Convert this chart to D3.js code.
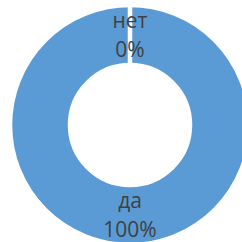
<!DOCTYPE html>
<html>
<head>
<meta charset="utf-8">
<script src="https://cdn.jsdelivr.net/npm/d3@7"></script>
<style>
  html, body { margin: 0; padding: 0; background: #fff; }
  svg { display: block; }
</style>
</head>
<body>
<svg id="chart" width="242" height="242"></svg>
<script>
const categories = ["да", "нет"];
const values = [100, 0];
const percentLabels = ["100%", "0%"];

const svg = d3.select("#chart");
const cx = 130, cy = 125;
const g = svg.append("g").attr("transform", `translate(${cx},${cy})`);

const pie = d3.pie().sort(null).value(d => d.value);
const data = categories.map((c, i) => ({ name: c, value: values[i], pct: percentLabels[i] }));
const arcs = pie(data);

const arc = d3.arc().innerRadius(60).outerRadius(120);
const labelArc = d3.arc().innerRadius(90).outerRadius(90);

g.selectAll("path.slice")
  .data(arcs)
  .join("path")
  .attr("class", "slice")
  .attr("d", arc)
  .attr("fill", "#5B9BD5")
  .attr("stroke", "#fff")
  .attr("stroke-width", 4.5)
  .attr("stroke-linejoin", "miter");

const labels = g.selectAll("text.lbl")
  .data(arcs)
  .join("text")
  .attr("class", "lbl")
  .attr("transform", d => {
    const [x, y] = labelArc.centroid(d);
    return `translate(${x},${y})`;
  })
  .attr("text-anchor", "middle")
  .attr("font-family", "'Open Sans', sans-serif")
  .attr("font-size", 21)
  .attr("fill", "#404040");

labels.append("tspan").attr("x", 0).attr("y", -7).text(d => d.data.name);
labels.append("tspan").attr("x", 0).attr("y", 22).text(d => d.data.pct);
</script>
</body>
</html>
